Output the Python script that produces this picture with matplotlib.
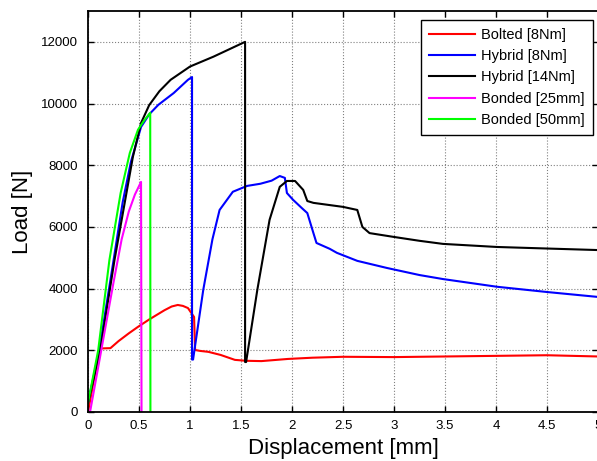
import numpy as np
import matplotlib
matplotlib.use('Agg')
import matplotlib.pyplot as plt
from matplotlib.ticker import FormatStrFormatter

plt.rcParams['font.family'] = ['Liberation Sans', 'DejaVu Sans']

# Bolted [8Nm]
bolted_x = [0, 0.05, 0.12, 0.22, 0.3, 0.4, 0.49, 0.6, 0.75, 0.82, 0.88, 0.93, 0.98, 1.04, 1.05,
            1.1, 1.18, 1.3, 1.44, 1.55, 1.7, 1.96, 2.2, 2.5, 3.0, 3.5, 4.0, 4.5, 5.0]
bolted_y = [0, 900, 2060, 2070, 2300, 2550, 2760, 3000, 3300, 3420, 3470, 3440, 3370, 3080, 2010,
            1980, 1950, 1850, 1690, 1660, 1650, 1720, 1760, 1790, 1780, 1800, 1820, 1840, 1800]

# Hybrid [8Nm]
hyb8_x = [0, 0.11, 0.24, 0.34, 0.42, 0.52, 0.6, 0.69, 0.84, 0.98, 1.02, 1.02, 1.03, 1.13, 1.22, 1.29, 1.42,
          1.56, 1.69, 1.8, 1.88, 1.93, 1.95, 2.01, 2.1, 2.15, 2.21, 2.24, 2.37, 2.44, 2.64, 2.93,
          3.25, 3.48, 4.01, 4.5, 5.0]
hyb8_y = [300, 2000, 4700, 6800, 8100, 9240, 9650, 9960, 10340, 10770, 10860, 1700, 1700, 3960, 5600, 6550, 7140,
          7330, 7400, 7500, 7650, 7590, 7100, 6880, 6600, 6450, 5800, 5480, 5290, 5160, 4900, 4670,
          4440, 4310, 4060, 3890, 3730]

# Hybrid [14Nm]
hyb14_x = [0, 0.12, 0.26, 0.37, 0.44, 0.52, 0.6, 0.7, 0.81, 1.0, 1.23, 1.54, 1.54, 1.55, 1.66, 1.78,
           1.88, 1.95, 2.03, 2.11, 2.15, 2.21, 2.5, 2.64, 2.69, 2.76, 2.99, 3.25, 3.48, 4.01, 4.5, 5.0]
hyb14_y = [300, 2000, 4930, 6970, 8270, 9370, 9950, 10400, 10770, 11200, 11520, 12000, 1620, 1620, 3960, 6230,
           7300, 7490, 7490, 7200, 6840, 6780, 6650, 6550, 6000, 5800, 5680, 5550, 5450, 5350, 5300, 5250]

# Bonded [25mm]
bond25_x = [0.02, 0.13, 0.25, 0.33, 0.4, 0.46, 0.52, 0.525, 0.58]
bond25_y = [0, 2000, 4200, 5600, 6500, 7050, 7460, -300, -300]

# Bonded [50mm]
bond50_x = [0, 0.1, 0.21, 0.32, 0.41, 0.49, 0.55, 0.61, 0.612, 0.65]
bond50_y = [300, 2000, 4930, 7100, 8400, 9150, 9450, 9700, -300, -300]

fig = plt.figure(figsize=(5.97, 4.61), dpi=100)
ax = fig.add_axes([0.1474, 0.1063, 0.8543, 0.8698])

lw = 1.5
ax.plot(bolted_x, bolted_y, color='#ff0000', lw=lw, label='Bolted [8Nm]')
ax.plot(hyb8_x, hyb8_y, color='#0000ff', lw=lw, label='Hybrid [8Nm]')
ax.plot(hyb14_x, hyb14_y, color='#000000', lw=lw, label='Hybrid [14Nm]')
ax.plot(bond25_x, bond25_y, color='#ff00ff', lw=lw, label='Bonded [25mm]')
ax.plot(bond50_x, bond50_y, color='#00ff00', lw=lw, label='Bonded [50mm]')

ax.set_xlim(0, 5)
ax.set_ylim(0, 13000)
ax.set_xticks(np.arange(0, 5.01, 0.5))
ax.set_yticks(np.arange(0, 12001, 2000))
ax.xaxis.set_major_formatter(FormatStrFormatter('%g'))
ax.grid(True, color='#808080', linestyle=':', linewidth=0.8)
ax.set_axisbelow(True)
ax.tick_params(direction='in', top=True, right=True, labelsize=9.5, length=4, width=1)
ax.tick_params(axis='y', pad=7)
ax.tick_params(axis='x', pad=6)
for s in ax.spines.values():
    s.set_linewidth(1.3)

ax.set_xlabel('Displacement [mm]', fontsize=16, labelpad=4)
ax.set_ylabel('Load [N]', fontsize=16, labelpad=6)

leg = ax.legend(loc='upper right', bbox_to_anchor=(0.99, 0.978), borderaxespad=0,
                fontsize=10.5, fancybox=False, framealpha=1, edgecolor='black',
                handlelength=3.15, borderpad=0.55, labelspacing=0.5, handletextpad=0.4)
leg.get_frame().set_linewidth(1.0)

fig.savefig('out.png', dpi=100)
